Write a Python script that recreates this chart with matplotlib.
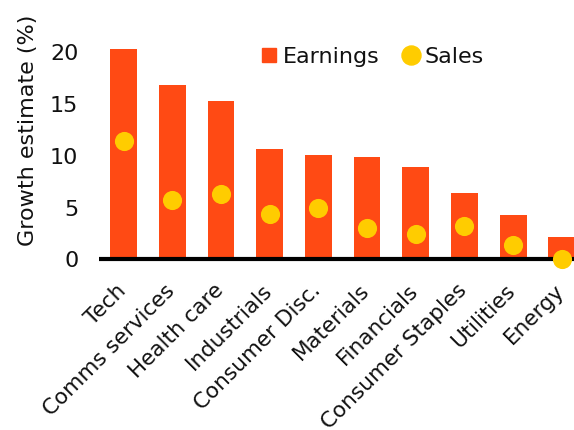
import matplotlib
matplotlib.use("Agg")
import matplotlib.pyplot as plt
from matplotlib.lines import Line2D
import matplotlib.transforms as mtransforms
import numpy as np

categories = ["Tech", "Comms services", "Health care", "Industrials", "Consumer Disc.",
              "Materials", "Financials", "Consumer Staples", "Utilities", "Energy"]
earnings = [20.3, 16.8, 15.3, 10.7, 10.1, 9.9, 8.9, 6.4, 4.3, 2.2]
sales = [11.4, 5.7, 6.3, 4.4, 5.0, 3.0, 2.4, 3.25, 1.35, 0.0]
yticks = [0, 5, 10, 15, 20]

bar_color = "#FF4A14"
dot_color = "#FFCC00"
text_color = "#111111"

plt.rcParams['font.family'] = ['DejaVu Sans']

fig = plt.figure(figsize=(5.74, 4.30), dpi=100)
ax = fig.add_axes([99.2 / 574, 150 / 430, 487 / 574, 248.4 / 430])

x = np.arange(len(categories))
ax.bar(x, earnings, width=0.55, color=bar_color, zorder=2)
ax.scatter(x, sales, s=190, color=dot_color, zorder=4, clip_on=False, linewidths=0)
ax.axhline(0, color="black", lw=3, zorder=3)

ax.set_xlim(-0.5, 9.5)
ax.set_ylim(-2, 22)
for s in ax.spines.values():
    s.set_visible(False)

ax.set_yticks(yticks)
ax.set_yticklabels([str(v) for v in yticks], fontsize=16)
ax.tick_params(axis="y", length=0, pad=15, labelcolor=text_color)
ax.set_xticks(x)
ax.set_xticklabels(categories, rotation=45, ha="right", rotation_mode="anchor", fontsize=15.5)
ax.tick_params(axis="x", length=0, pad=0, labelcolor=text_color)
offset = mtransforms.ScaledTranslation(-8 / 100, -21 / 100, fig.dpi_scale_trans)
for lab in ax.get_xticklabels():
    lab.set_transform(mtransforms.blended_transform_factory(ax.transData, ax.transData) + offset)
    lab.set_y(0)

ax.set_ylabel("Growth estimate (%)", fontsize=16, color=text_color)
ax.yaxis.set_label_coords(-0.126, 0.604, transform=ax.transAxes)

handles = [
    Line2D([], [], marker="s", linestyle="none", color=bar_color, markersize=10),
    Line2D([], [], marker="o", linestyle="none", color=dot_color, markersize=13.7),
]
leg = ax.legend(handles, ["Earnings", "Sales"], ncol=2, frameon=False, fontsize=16,
                loc="center left", bbox_to_anchor=(258 / 574, 1 - 57 / 430),
                bbox_transform=fig.transFigure, handletextpad=0.1, columnspacing=0.95,
                handlelength=1.0, borderaxespad=0, borderpad=0)
for t in leg.get_texts():
    t.set_color(text_color)

fig.savefig("out.png", dpi=100)
